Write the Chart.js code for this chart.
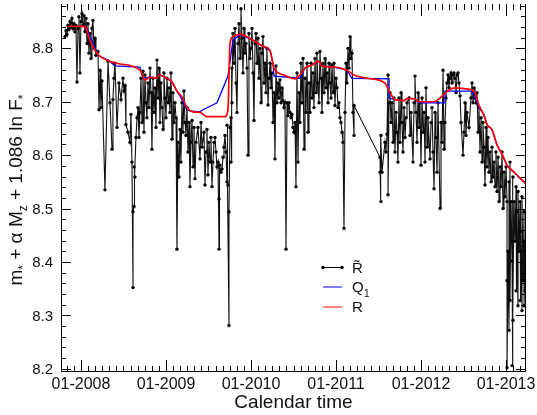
<!DOCTYPE html>
<html lang="en">
<head>
<meta charset="UTF-8">
<title>R tilde vs calendar time</title>
<script src="https://cdn.jsdelivr.net/npm/chart.js"></script>
<style>
  body { margin: 0; background: #fff; }
</style>
</head>
<body>
<canvas id="chart" width="537" height="415"></canvas>
<script>
// x in decimal years, y = m* + alpha Mz + 1.086 ln F*
const xTickYears = [2008, 2009, 2010, 2011, 2012, 2013];
const yTickValues = [8.2, 8.3, 8.4, 8.5, 8.6, 8.7, 8.8];

// R tilde: raw per-epoch values
const rTilde = [
  [2007.812, 8.822], [2007.824, 8.833], [2007.835, 8.826], [2007.847, 8.843], [2007.859, 8.835],
  [2007.871, 8.850], [2007.882, 8.839], [2007.894, 8.856], [2007.906, 8.837], [2007.918, 8.846],
  [2007.929, 8.831], [2007.941, 8.843], [2007.953, 8.737], [2007.965, 8.837], [2007.976, 8.859],
  [2007.988, 8.754], [2008.000, 8.850], [2008.012, 8.865], [2008.024, 8.843], [2008.035, 8.861],
  [2008.047, 8.831], [2008.059, 8.856], [2008.071, 8.809], [2008.082, 8.846], [2008.094, 8.791],
  [2008.106, 8.828], [2008.118, 8.781], [2008.129, 8.837], [2008.141, 8.852], [2008.153, 8.800],
  [2008.165, 8.819], [2008.176, 8.787], [2008.200, 8.794], [2008.212, 8.685], [2008.224, 8.759],
  [2008.235, 8.689], [2008.247, 8.739], [2008.282, 8.535], [2008.318, 8.776], [2008.341, 8.698],
  [2008.365, 8.611], [2008.376, 8.704], [2008.388, 8.744], [2008.400, 8.772], [2008.424, 8.652],
  [2008.447, 8.735], [2008.471, 8.704], [2008.494, 8.744], [2008.506, 8.720], [2008.518, 8.731],
  [2008.529, 8.657], [2008.553, 8.643], [2008.576, 8.624], [2008.588, 8.676], [2008.600, 8.587],
  [2008.612, 8.352], [2008.612, 8.494], [2008.624, 8.504], [2008.624, 8.578], [2008.635, 8.559],
  [2008.647, 8.633], [2008.659, 8.670], [2008.671, 8.689], [2008.682, 8.633], [2008.694, 8.680],
  [2008.706, 8.744], [2008.718, 8.661], [2008.729, 8.757], [2008.741, 8.643], [2008.753, 8.750],
  [2008.765, 8.698], [2008.776, 8.670], [2008.788, 8.735], [2008.800, 8.689], [2008.812, 8.763],
  [2008.824, 8.717], [2008.835, 8.611], [2008.847, 8.744], [2008.859, 8.680], [2008.871, 8.726],
  [2008.882, 8.652], [2008.894, 8.778], [2008.906, 8.707], [2008.918, 8.763], [2008.929, 8.661],
  [2008.941, 8.735], [2008.953, 8.689], [2008.965, 8.648], [2008.976, 8.754], [2008.988, 8.707],
  [2009.000, 8.670], [2009.012, 8.744], [2009.024, 8.698], [2009.035, 8.726], [2009.047, 8.680],
  [2009.059, 8.754], [2009.071, 8.630], [2009.082, 8.717], [2009.094, 8.661], [2009.106, 8.698],
  [2009.118, 8.670], [2009.129, 8.424], [2009.141, 8.624], [2009.153, 8.559], [2009.165, 8.648],
  [2009.176, 8.587], [2009.188, 8.698], [2009.200, 8.643], [2009.212, 8.720], [2009.224, 8.661],
  [2009.235, 8.637], [2009.247, 8.689], [2009.259, 8.606], [2009.271, 8.661], [2009.282, 8.541],
  [2009.294, 8.624], [2009.306, 8.665], [2009.318, 8.578], [2009.329, 8.652], [2009.341, 8.556],
  [2009.353, 8.624], [2009.376, 8.652], [2009.400, 8.593], [2009.412, 8.661], [2009.424, 8.615],
  [2009.447, 8.643], [2009.459, 8.544], [2009.471, 8.606], [2009.482, 8.648], [2009.494, 8.563],
  [2009.506, 8.624], [2009.518, 8.587], [2009.529, 8.633], [2009.541, 8.541], [2009.553, 8.587],
  [2009.565, 8.624], [2009.576, 8.633], [2009.588, 8.606], [2009.600, 8.578], [2009.612, 8.587],
  [2009.624, 8.424], [2009.624, 8.518], [2009.635, 8.581], [2009.647, 8.568], [2009.659, 8.574],
  [2009.671, 8.596], [2009.682, 8.615], [2009.694, 8.637], [2009.706, 8.606], [2009.718, 8.550],
  [2009.718, 8.656], [2009.729, 8.544], [2009.741, 8.281], [2009.741, 8.494], [2009.753, 8.652],
  [2009.765, 8.670], [2009.765, 8.587], [2009.776, 8.763], [2009.776, 8.698], [2009.788, 8.828],
  [2009.800, 8.772], [2009.812, 8.837], [2009.824, 8.735], [2009.835, 8.680], [2009.847, 8.809],
  [2009.859, 8.846], [2009.871, 8.781], [2009.882, 8.874], [2009.894, 8.819], [2009.906, 8.754],
  [2009.918, 8.837], [2009.929, 8.791], [2009.941, 8.809], [2009.953, 8.763], [2009.965, 8.600],
  [2009.976, 8.828], [2009.988, 8.781], [2010.000, 8.800], [2010.012, 8.837], [2010.024, 8.754],
  [2010.035, 8.665], [2010.047, 8.809], [2010.059, 8.828], [2010.071, 8.772], [2010.082, 8.819],
  [2010.094, 8.744], [2010.106, 8.800], [2010.118, 8.698], [2010.129, 8.791], [2010.141, 8.822],
  [2010.153, 8.735], [2010.165, 8.772], [2010.176, 8.717], [2010.188, 8.800], [2010.200, 8.694],
  [2010.212, 8.744], [2010.224, 8.772], [2010.235, 8.726], [2010.247, 8.754], [2010.259, 8.661],
  [2010.271, 8.717], [2010.282, 8.593], [2010.294, 8.767], [2010.306, 8.698], [2010.318, 8.735],
  [2010.329, 8.707], [2010.341, 8.741], [2010.353, 8.698], [2010.365, 8.726], [2010.376, 8.702],
  [2010.388, 8.689], [2010.400, 8.698], [2010.412, 8.424], [2010.424, 8.698], [2010.435, 8.674],
  [2010.447, 8.698], [2010.459, 8.680], [2010.471, 8.670], [2010.482, 8.676], [2010.494, 8.652],
  [2010.506, 8.643], [2010.518, 8.661], [2010.529, 8.541], [2010.541, 8.754], [2010.553, 8.587],
  [2010.565, 8.717], [2010.576, 8.661], [2010.588, 8.772], [2010.600, 8.698], [2010.612, 8.781],
  [2010.624, 8.611], [2010.635, 8.744], [2010.647, 8.680], [2010.659, 8.772], [2010.671, 8.643],
  [2010.682, 8.735], [2010.694, 8.680], [2010.706, 8.772], [2010.718, 8.707], [2010.729, 8.754],
  [2010.741, 8.689], [2010.753, 8.781], [2010.765, 8.717], [2010.776, 8.791], [2010.788, 8.735],
  [2010.800, 8.698], [2010.812, 8.794], [2010.824, 8.744], [2010.835, 8.680], [2010.847, 8.772],
  [2010.859, 8.717], [2010.871, 8.781], [2010.882, 8.726], [2010.894, 8.754], [2010.906, 8.698],
  [2010.918, 8.772], [2010.929, 8.735], [2010.941, 8.707], [2010.953, 8.769], [2010.965, 8.717],
  [2010.976, 8.772], [2010.988, 8.693], [2011.000, 8.744], [2011.012, 8.726], [2011.024, 8.689],
  [2011.035, 8.698], [2011.047, 8.670], [2011.059, 8.661], [2011.071, 8.643], [2011.082, 8.624],
  [2011.094, 8.463], [2011.106, 8.680], [2011.118, 8.772], [2011.129, 8.735], [2011.141, 8.800],
  [2011.153, 8.763], [2011.165, 8.822], [2011.176, 8.781], [2011.188, 8.791], [2011.200, 8.680],
  [2011.212, 8.637], [2011.212, 8.693], [2011.518, 8.596], [2011.518, 8.568], [2011.529, 8.513],
  [2011.529, 8.637], [2011.541, 8.568], [2011.576, 8.624], [2011.588, 8.606], [2011.600, 8.639],
  [2011.612, 8.750], [2011.612, 8.526], [2011.624, 8.698], [2011.635, 8.717], [2011.647, 8.661],
  [2011.659, 8.698], [2011.671, 8.624], [2011.682, 8.707], [2011.694, 8.606], [2011.706, 8.680],
  [2011.718, 8.643], [2011.729, 8.587], [2011.741, 8.707], [2011.753, 8.624], [2011.765, 8.717],
  [2011.776, 8.661], [2011.788, 8.606], [2011.800, 8.689], [2011.812, 8.633], [2011.824, 8.670],
  [2011.835, 8.698], [2011.859, 8.707], [2011.871, 8.637], [2011.882, 8.680], [2011.906, 8.587],
  [2011.918, 8.698], [2011.929, 8.748], [2011.941, 8.680], [2011.953, 8.624], [2011.965, 8.717],
  [2011.976, 8.652], [2011.988, 8.698], [2012.000, 8.581], [2012.012, 8.707], [2012.024, 8.643],
  [2012.035, 8.680], [2012.047, 8.587], [2012.059, 8.726], [2012.071, 8.615], [2012.082, 8.670],
  [2012.106, 8.593], [2012.118, 8.661], [2012.129, 8.689], [2012.141, 8.606], [2012.153, 8.537],
  [2012.165, 8.680], [2012.176, 8.633], [2012.188, 8.568], [2012.200, 8.698], [2012.224, 8.500],
  [2012.235, 8.661], [2012.247, 8.624], [2012.259, 8.759], [2012.271, 8.611], [2012.282, 8.661],
  [2012.294, 8.707], [2012.306, 8.735], [2012.318, 8.750], [2012.329, 8.726], [2012.341, 8.744],
  [2012.353, 8.754], [2012.365, 8.735], [2012.376, 8.750], [2012.388, 8.754], [2012.400, 8.744],
  [2012.412, 8.717], [2012.424, 8.750], [2012.435, 8.754], [2012.447, 8.735], [2012.459, 8.711],
  [2012.471, 8.661], [2012.494, 8.600], [2012.506, 8.643], [2012.518, 8.698], [2012.529, 8.637],
  [2012.541, 8.680], [2012.565, 8.652], [2012.588, 8.707], [2012.600, 8.735], [2012.612, 8.698],
  [2012.624, 8.726], [2012.635, 8.707], [2012.647, 8.698], [2012.659, 8.717], [2012.671, 8.643],
  [2012.682, 8.689], [2012.694, 8.606], [2012.706, 8.670], [2012.718, 8.587], [2012.729, 8.661],
  [2012.741, 8.615], [2012.753, 8.544], [2012.765, 8.652], [2012.776, 8.578], [2012.788, 8.633],
  [2012.800, 8.568], [2012.812, 8.606], [2012.824, 8.550], [2012.835, 8.615], [2012.847, 8.559],
  [2012.859, 8.587], [2012.871, 8.541], [2012.882, 8.606], [2012.894, 8.532], [2012.906, 8.596],
  [2012.918, 8.513], [2012.929, 8.578], [2012.941, 8.541], [2012.953, 8.606], [2012.965, 8.500],
  [2012.976, 8.568], [2012.988, 8.522], [2013.000, 8.578], [2013.012, 8.513], [2013.012, 8.365],
  [2013.012, 8.202], [2013.024, 8.420], [2013.035, 8.550], [2013.035, 8.272], [2013.047, 8.587],
  [2013.047, 8.328], [2013.059, 8.513], [2013.071, 8.402], [2013.071, 8.206], [2013.082, 8.559],
  [2013.082, 8.291], [2013.094, 8.513], [2013.106, 8.439], [2013.118, 8.541], [2013.118, 8.346],
  [2013.129, 8.494], [2013.141, 8.318], [2013.141, 8.532], [2013.153, 8.420], [2013.165, 8.513],
  [2013.165, 8.328], [2013.176, 8.457], [2013.188, 8.309], [2013.188, 8.522], [2013.200, 8.365],
  [2013.212, 8.494], [2013.212, 8.318], [2013.224, 8.439], [2013.224, 8.346]
];

// Q1 curve
const q1 = [
  [2007.847, 8.841], [2008.059, 8.841], [2008.200, 8.787], [2008.318, 8.778], [2008.400, 8.767],
  [2008.694, 8.765], [2008.729, 8.744], [2008.812, 8.746], [2008.871, 8.744], [2008.929, 8.750],
  [2008.988, 8.746], [2009.071, 8.737], [2009.129, 8.720], [2009.165, 8.711], [2009.247, 8.685],
  [2009.282, 8.683], [2009.400, 8.681], [2009.435, 8.685], [2009.600, 8.698], [2009.729, 8.748],
  [2009.788, 8.815], [2009.871, 8.826], [2010.024, 8.815], [2010.141, 8.804], [2010.224, 8.796],
  [2010.259, 8.772], [2010.271, 8.748], [2010.576, 8.744], [2010.635, 8.763], [2010.718, 8.769],
  [2010.800, 8.776], [2010.835, 8.767], [2010.976, 8.765], [2011.129, 8.759], [2011.188, 8.744],
  [2011.624, 8.743], [2011.624, 8.707], [2011.694, 8.704], [2011.800, 8.702], [2011.835, 8.706],
  [2011.918, 8.706], [2011.976, 8.698], [2012.271, 8.698], [2012.282, 8.720], [2012.600, 8.720],
  [2012.682, 8.689], [2012.741, 8.676], [2012.776, 8.657], [2012.835, 8.648], [2012.894, 8.619],
  [2012.953, 8.602], [2013.012, 8.581], [2013.094, 8.568], [2013.235, 8.546]
];

// R curve
const rSmooth = [
  [2007.847, 8.841], [2008.047, 8.841], [2008.106, 8.815], [2008.165, 8.796], [2008.224, 8.785],
  [2008.424, 8.772], [2008.694, 8.759], [2008.753, 8.741], [2008.812, 8.746], [2008.871, 8.744],
  [2008.929, 8.750], [2008.988, 8.746], [2009.071, 8.737], [2009.129, 8.720], [2009.188, 8.709],
  [2009.247, 8.689], [2009.318, 8.681], [2009.400, 8.680], [2009.482, 8.672], [2009.694, 8.672],
  [2009.729, 8.685], [2009.753, 8.809], [2009.788, 8.822], [2009.871, 8.826], [2010.024, 8.815],
  [2010.141, 8.804], [2010.224, 8.796], [2010.271, 8.763], [2010.388, 8.750], [2010.518, 8.743],
  [2010.576, 8.750], [2010.635, 8.763], [2010.718, 8.769], [2010.800, 8.776], [2010.835, 8.767],
  [2010.976, 8.765], [2011.129, 8.759], [2011.212, 8.750], [2011.365, 8.744], [2011.576, 8.735],
  [2011.635, 8.717], [2011.694, 8.704], [2011.800, 8.702], [2011.835, 8.706], [2011.918, 8.706],
  [2011.976, 8.700], [2012.153, 8.700], [2012.224, 8.707], [2012.329, 8.722], [2012.400, 8.726],
  [2012.541, 8.724], [2012.624, 8.720], [2012.682, 8.693], [2012.741, 8.674], [2012.776, 8.657],
  [2012.835, 8.648], [2012.894, 8.619], [2012.953, 8.602], [2013.012, 8.581], [2013.094, 8.568],
  [2013.235, 8.546]
];

const toXY = arr => arr.map(p => ({ x: p[0], y: p[1] }));
const FONT = '"Liberation Sans", Arial, Helvetica, sans-serif';

// frame, inward ticks, labels, titles and the legend box
const decorations = {
  id: 'decorations',
  afterDraw(chart) {
    const { ctx, chartArea: a } = chart;
    const xs = chart.scales.x, ys = chart.scales.y;
    ctx.save();
    ctx.strokeStyle = '#000';
    ctx.lineWidth = 1;
    ctx.beginPath();
    ctx.moveTo(a.left + 0.5, a.top);
    ctx.lineTo(a.left + 0.5, a.bottom - 0.5);
    ctx.lineTo(a.right - 0.5, a.bottom - 0.5);
    ctx.lineTo(a.right - 0.5, a.top);
    for (let yr = 2007; yr <= 2013; yr++) {
      for (let m = 0; m < 12; m++) {
        const v = yr + m / 12;
        if (v < xs.min || v > xs.max) continue;
        const px = Math.round(xs.getPixelForValue(v)) + 0.5;
        const len = m === 0 ? 12 : 6;
        ctx.moveTo(px, a.bottom); ctx.lineTo(px, a.bottom - len);
        ctx.moveTo(px, a.top); ctx.lineTo(px, a.top + len);
      }
    }
    for (let i = 0; i <= 35; i++) {
      const v = 8.2 + i * 0.02;
      if (v > ys.max) break;
      const py = Math.round(ys.getPixelForValue(v)) + 0.5;
      const len = i % 5 === 0 ? 10 : 5;
      ctx.moveTo(a.left, py); ctx.lineTo(a.left + len, py);
      ctx.moveTo(a.right, py); ctx.lineTo(a.right - len, py);
    }
    ctx.stroke();

    ctx.fillStyle = '#111';
    ctx.font = '15px ' + FONT;
    ctx.textAlign = 'right';
    ctx.textBaseline = 'middle';
    yTickValues.forEach(v => ctx.fillText(v.toFixed(1), a.left - 8, ys.getPixelForValue(v) + 1));

    ctx.font = '16px ' + FONT;
    ctx.textAlign = 'center';
    xTickYears.forEach(yr => ctx.fillText('01-' + yr, xs.getPixelForValue(yr), a.bottom + 13));

    ctx.font = '19px ' + FONT;
    ctx.fillText('Calendar time', (a.left + a.right) / 2, a.bottom + 31);

    // rotated y title with subscripts
    const parts = [
      ['m', 0], ['*', 1], [' + \u03b1 M', 0], ['z', 1], [' + 1.086 ln F', 0], ['*', 1]
    ];
    const fontFor = sub => (sub ? '12px ' : '19px ') + FONT;
    let total = 0;
    parts.forEach(([t, sub]) => { ctx.font = fontFor(sub); total += ctx.measureText(t).width; });
    ctx.translate(22, 190);
    ctx.rotate(-Math.PI / 2);
    ctx.textAlign = 'left';
    ctx.textBaseline = 'alphabetic';
    let cx = -total / 2;
    parts.forEach(([t, sub]) => {
      ctx.font = fontFor(sub);
      ctx.fillText(t, cx, sub ? 5 : 0);
      cx += ctx.measureText(t).width;
    });
    ctx.restore();

    // legend
    ctx.save();
    ctx.lineWidth = 1;
    ctx.strokeStyle = '#000';
    ctx.beginPath(); ctx.moveTo(323, 267.5); ctx.lineTo(342, 267.5); ctx.stroke();
    ctx.fillStyle = '#000';
    [323, 342].forEach(px => { ctx.beginPath(); ctx.arc(px, 267.5, 1.7, 0, Math.PI * 2); ctx.fill(); });
    ctx.strokeStyle = '#0000ff';
    ctx.beginPath(); ctx.moveTo(323, 287); ctx.lineTo(342, 287); ctx.stroke();
    ctx.strokeStyle = '#ff0000';
    ctx.beginPath(); ctx.moveTo(323, 307); ctx.lineTo(342, 307); ctx.stroke();
    ctx.fillStyle = '#111';
    ctx.textAlign = 'left';
    ctx.textBaseline = 'alphabetic';
    ctx.font = '15px ' + FONT;
    ctx.fillText('R\u0303', 352, 273);
    ctx.fillText('Q', 352, 292);
    ctx.fillText('R', 352, 312);
    ctx.font = '10px ' + FONT;
    ctx.fillText('1', 364, 297);
    ctx.restore();
  }
};

new Chart(document.getElementById('chart'), {
  type: 'line',
  data: {
    datasets: [
      {
        label: 'R',
        data: toXY(rSmooth),
        borderColor: '#ff0000',
        borderWidth: 1.7,
        pointRadius: 0,
        cubicInterpolationMode: 'monotone'
      },
      {
        label: 'Q1',
        data: toXY(q1),
        borderColor: '#0000ff',
        borderWidth: 1.3,
        pointRadius: 0,
        tension: 0
      },
      {
        label: 'R tilde',
        data: toXY(rTilde),
        borderColor: '#111',
        borderWidth: 1.1,
        pointRadius: 1.7,
        pointBackgroundColor: '#000',
        pointBorderWidth: 0,
        tension: 0
      }
    ]
  },
  options: {
    responsive: false,
    animation: false,
    layout: { padding: { left: 61, right: 11, top: 0, bottom: 43 } },
    plugins: { legend: { display: false }, tooltip: { enabled: false } },
    scales: {
      x: { type: 'linear', display: false, min: 2007.765, max: 2013.235 },
      y: { type: 'linear', display: false, min: 8.194, max: 8.883 }
    }
  },
  plugins: [decorations]
});
</script>
</body>
</html>
